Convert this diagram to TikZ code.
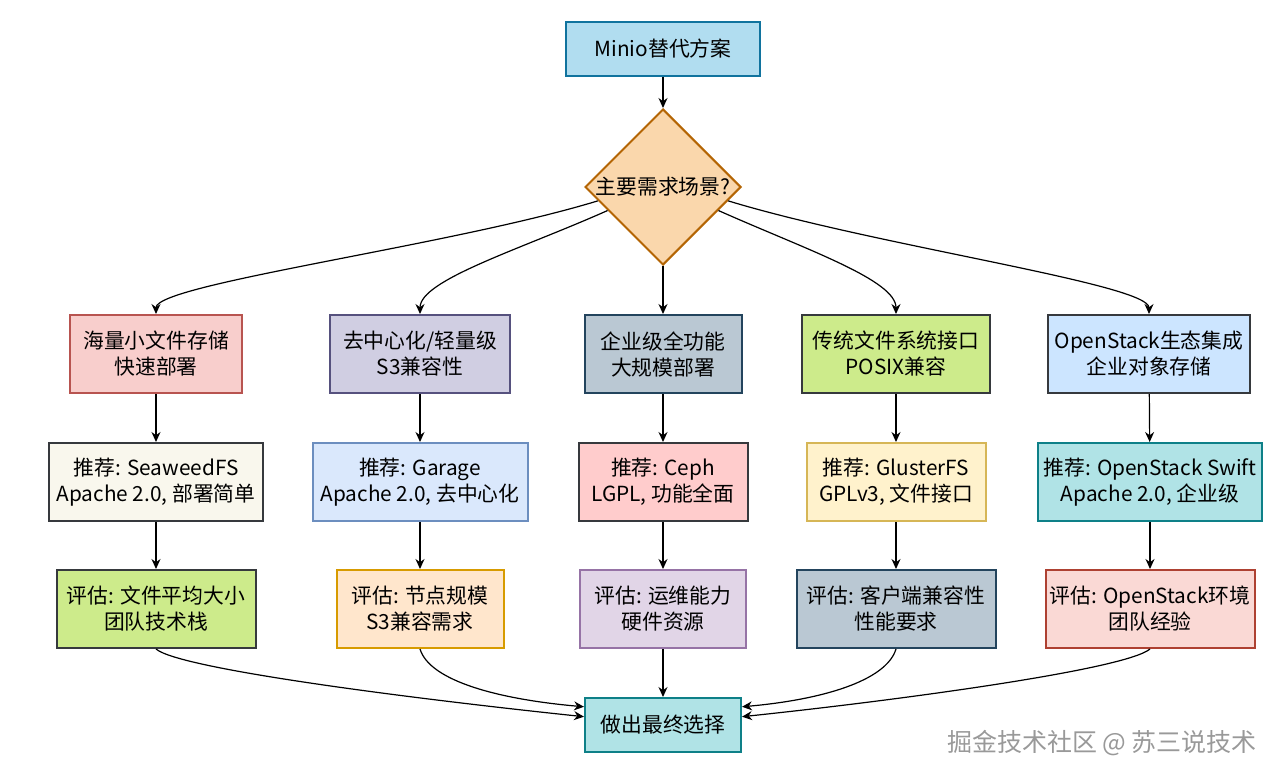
\documentclass[tikz,border=0pt]{standalone}
\usepackage{fontspec}
\setmainfont{Noto Sans CJK SC}
\usepackage{tikz}
\usetikzlibrary{arrows.meta, shapes.geometric}

\definecolor{topfill}{HTML}{B1DDF0}\definecolor{topline}{HTML}{10739E}
\definecolor{diafill}{HTML}{FAD7AC}\definecolor{dialine}{HTML}{B46504}
\definecolor{redfill}{HTML}{F8CECC}\definecolor{redline}{HTML}{B85450}
\definecolor{purfill}{HTML}{D0CEE2}\definecolor{purline}{HTML}{56517E}
\definecolor{grafill}{HTML}{BAC8D3}\definecolor{graline}{HTML}{23445D}
\definecolor{grnfill}{HTML}{CDEB8B}\definecolor{darkline}{HTML}{36393D}
\definecolor{skyfill}{HTML}{CCE5FF}
\definecolor{ivofill}{HTML}{F9F7ED}
\definecolor{blufill}{HTML}{DAE8FC}\definecolor{bluline}{HTML}{6C8EBF}
\definecolor{pinfill}{HTML}{FFCCCC}
\definecolor{yelfill}{HTML}{FFF2CC}\definecolor{yelline}{HTML}{D6B656}
\definecolor{tealfill}{HTML}{B0E3E6}\definecolor{tealline}{HTML}{0E8088}
\definecolor{orafill}{HTML}{FFE6CC}\definecolor{oraline}{HTML}{D79B00}
\definecolor{lilfill}{HTML}{E1D5E7}\definecolor{lilline}{HTML}{9673A6}
\definecolor{rosfill}{HTML}{FAD9D5}\definecolor{rosline}{HTML}{AE4132}

\begin{document}
\begin{tikzpicture}[x=0.5pt, y=-0.5pt, font=\fontsize{10.4}{13}\selectfont,
    box/.style={draw, line width=1pt, align=center, inner sep=0pt, minimum height=39pt},
    conn/.style={-{Stealth[length=5pt,width=4.5pt]}, line width=0.6pt}]
    \useasboundingbox (0,0) rectangle (1284,781);

    \node[box, minimum width=97pt, minimum height=27pt, fill=topfill, draw=topline] (top) at (663,49) {Minio替代方案};
    \node[diamond, draw=dialine, fill=diafill, line width=1pt, inner sep=0pt, minimum width=78pt, minimum height=78pt,
        label=center:主要需求场景?] (dia) at (663,187) {};

    % scenarios
    \node[box, minimum width=86pt, fill=redfill, draw=redline] (s1) at (156,354) {海量小文件存储\\快速部署};
    \node[box, minimum width=90pt, fill=purfill, draw=purline] (s2) at (420,354) {去中心化/轻量级\\S3兼容性};
    \node[box, minimum width=78.5pt, fill=grafill, draw=graline] (s3) at (663,354) {企业级全功能\\大规模部署};
    \node[box, minimum width=94pt, fill=grnfill, draw=darkline] (s4) at (896,354) {传统文件系统接口\\POSIX兼容};
    \node[box, minimum width=101pt, fill=skyfill, draw=darkline] (s5) at (1149,354) {OpenStack生态集成\\企业对象存储};

    % recommendations
    \node[box, minimum width=107pt, fill=ivofill, draw=darkline] (r1) at (156,482) {推荐: SeaweedFS\\Apache 2.0, 部署简单};
    \node[box, minimum width=107.5pt, fill=blufill, draw=bluline] (r2) at (420,482) {推荐: Garage\\Apache 2.0, 去中心化};
    \node[box, minimum width=84.5pt, fill=pinfill, draw=darkline] (r3) at (663,482) {推荐: Ceph\\LGPL, 功能全面};
    \node[box, minimum width=89.5pt, fill=yelfill, draw=yelline] (r4) at (896,482) {推荐: GlusterFS\\GPLv3, 文件接口};
    \node[box, minimum width=112pt, fill=tealfill, draw=tealline] (r5) at (1150,482) {推荐: OpenStack Swift\\Apache 2.0, 企业级};

    % evaluations
    \node[box, minimum width=99.5pt, fill=grnfill, draw=darkline] (e1) at (156,609) {评估: 文件平均大小\\团队技术栈};
    \node[box, minimum width=83.5pt, fill=orafill, draw=oraline] (e2) at (420,609) {评估: 节点规模\\S3兼容需求};
    \node[box, minimum width=83pt, fill=lilfill, draw=lilline] (e3) at (663,609) {评估: 运维能力\\硬件资源};
    \node[box, minimum width=99.5pt, fill=grafill, draw=graline] (e4) at (896,609) {评估: 客户端兼容性\\性能要求};
    \node[box, minimum width=104.5pt, fill=rosfill, draw=rosline] (e5) at (1150,609) {评估: OpenStack环境\\团队经验};

    \node[box, minimum width=78pt, minimum height=27pt, fill=tealfill, draw=tealline] (fin) at (663,725) {做出最终选择};

    \node[anchor=east, text=gray!80, font=\fontsize{12.5}{15}\selectfont] (mark) at (1264,743) {掘金技术社区 @ 苏三说技术};

    \path[conn]
        (top) edge (dia)
        (dia.192) edge [out=197, in=90, out distance=77pt, in distance=15pt] (s1)
        (dia.203) edge [out=204, in=90, out distance=48pt, in distance=17pt] (s2)
        (dia) edge (s3)
        (dia.337) edge [out=336, in=90, out distance=48pt, in distance=17pt] (s4)
        (dia.348) edge [out=343, in=90, out distance=77pt, in distance=15pt] (s5)
    ;
    \foreach \i in {1,...,5} {
        \path[conn] (s\i) edge (r\i) (r\i) edge (e\i);
    }
    \path[conn]
        (e1.south) edge [out=320, in=174, out distance=16pt, in distance=82pt] (fin.174)
        (e2.south) edge [out=287, in=175, out distance=17pt, in distance=42pt] (fin.167)
        (e3) edge (fin)
        (e4.south) edge [out=253, in=5, out distance=17pt, in distance=39pt] (fin.13)
        (e5.south) edge [out=220, in=6, out distance=16pt, in distance=79pt] (fin.6)
    ;
\end{tikzpicture}
\end{document}
